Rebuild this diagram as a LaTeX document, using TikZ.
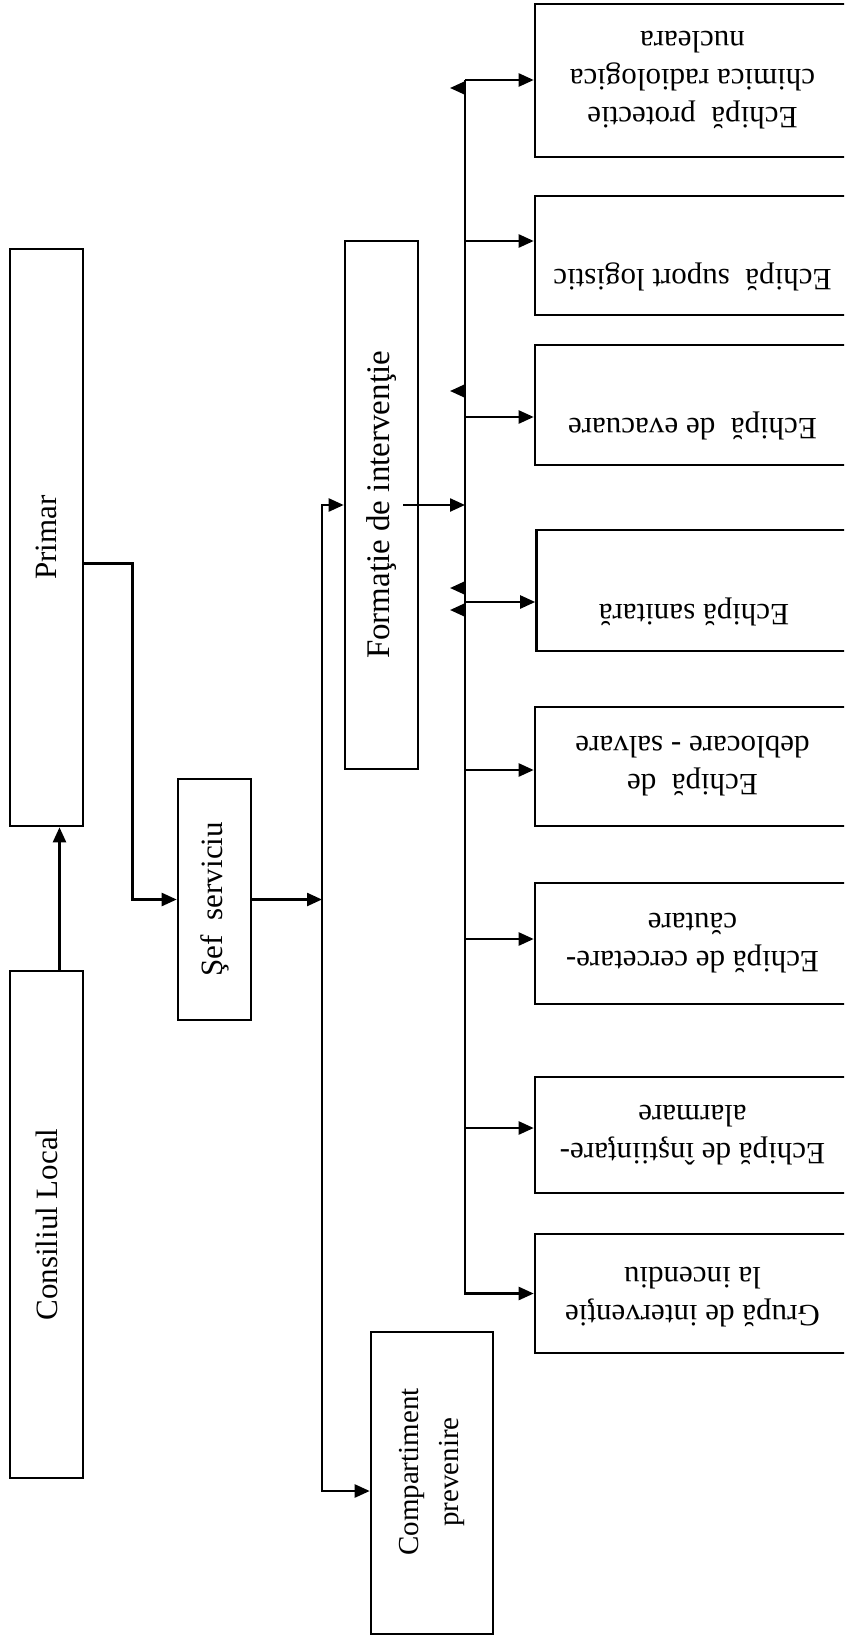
\documentclass[tikz,border=0pt]{standalone}
\usepackage{fontspec}
\setmainfont{Liberation Serif}
\usetikzlibrary{arrows.meta}

\begin{document}
\begin{tikzpicture}[x=1pt, y=-1pt,
    box/.style={draw, line width=2.6pt, inner sep=0pt},
    side/.style={box, minimum width=73pt},
    team/.style={box, minimum width=315pt},
    word/.style={font=\fontsize{31}{38}\selectfont, align=center},
    link/.style={line width=2.4pt},
    arr/.style={link, -{Triangle[length=15pt, width=13pt]}}]
    %\draw[help lines] (0,0) grid[step=100] (844,1640);
    \useasboundingbox (0,0) rectangle (844,1640);
    \clip (0,0) rectangle (844,1640);

    \node[side, minimum height=577pt] (primar) at (46.5,537.5) {};
    \node[side, minimum height=507pt] (consiliu) at (46.5,1224.5) {};
    \node[side, minimum height=241pt] (sef) at (214.5,899.5) {};
    \node[side, minimum height=528pt] (formatie) at (381.5,505) {};
    \node[box, minimum width=122pt, minimum height=302pt] (compart) at (432,1483) {};

    \node[word, rotate=90] (tprimar) at (primar) {Primar};
    \node[word, rotate=90] (tconsiliu) at (consiliu) {Consiliul Local};
    \node[word, rotate=90] (tsef) at (sef) {Şef~ serviciu};
    \node[word, rotate=90, font=\fontsize{33}{38}\selectfont] (tformatie) at (formatie) {Formaţie de intervenţie};
    \node[word, rotate=90, font=\fontsize{29}{40}\selectfont] (tcompart) at ([yshift=11pt]compart) {Compartiment\\prevenire};

    \node[team, minimum height=153pt] (team1) at (692.5,80.5) {};
    \node[team, minimum height=119pt] (team2) at (692.5,255.5) {};
    \node[team, minimum height=120pt] (team3) at (692.5,405) {};
    \node[team, minimum height=121pt] (team4) at (694,590.5) {};
    \node[team, minimum height=119pt] (team5) at (692.5,766.5) {};
    \node[team, minimum height=121pt] (team6) at (692.5,943.5) {};
    \node[team, minimum height=116pt] (team7) at (692.5,1135) {};
    \node[team, minimum height=119pt] (team8) at (692.5,1293.5) {};

    \node[word, rotate=180] (tteam1) at (team1) {Echipă~ protectie\\chimica radiologica\\nucleara};
    \node[word, rotate=180] (tteam2) at ([yshift=-21pt]team2) {Echipă~ suport logistic};
    \node[word, rotate=180] (tteam3) at ([yshift=-21pt]team3) {Echipă~ de evacuare};
    \node[word, rotate=180] (tteam4) at ([yshift=-21pt]team4) {Echipă sanitară};
    \node[word, rotate=180] (tteam5) at (team5) {Echipă~ de\\deblocare - salvare};
    \node[word, rotate=180] (tteam6) at (team6) {Echipă de cercetare-\\căutare};
    \node[word, rotate=180] (tteam7) at (team7) {Echipă de înştiinţare-\\alarmare};
    \node[word, rotate=180] (tteam8) at ([yshift=-4pt]team8) {Grupă de intervenţie\\la incendiu};

    \draw[arr] ([xshift=13pt]consiliu.north) -- ([xshift=13pt]primar.south);
    \draw[arr] ([yshift=-26pt]primar.east) -- ++(48,0) |- (sef.west);
    \coordinate (split) at (322,899.5);
    \draw[arr] (sef.east) -- (split);
    \draw[arr] (split) |- (formatie.west);
    \draw[arr] (split) |- ([yshift=-8pt]compart.west);

    \coordinate (bus) at (465,80);
    \draw[arr] (bus) |- (team8.west);
    \draw[arr] ([xshift=-16pt]formatie.east) -- (formatie.east -| bus);
    \draw[arr] (bus) -- (bus -| team1.west);
    \draw[arr] ([yshift=14.5pt]team2.west -| bus) -- ([yshift=14.5pt]team2.west);
    \draw[arr] ([yshift=-12pt]team3.west -| bus) -- ([yshift=-12pt]team3.west);
    \draw[arr] ([yshift=-11.5pt]team4.west -| bus) -- ([yshift=-11.5pt]team4.west);
    \draw[arr] ([yshift=-3.5pt]team5.west -| bus) -- ([yshift=-3.5pt]team5.west);
    \draw[arr] ([yshift=4.5pt]team6.west -| bus) -- ([yshift=4.5pt]team6.west);
    \draw[arr] ([yshift=7pt]team7.west -| bus) -- ([yshift=7pt]team7.west);
    \foreach \y in {88,391,588,610}
        \draw[arr] (bus |- 0,\y) -- ++(-15,0);

\end{tikzpicture}
\end{document}
